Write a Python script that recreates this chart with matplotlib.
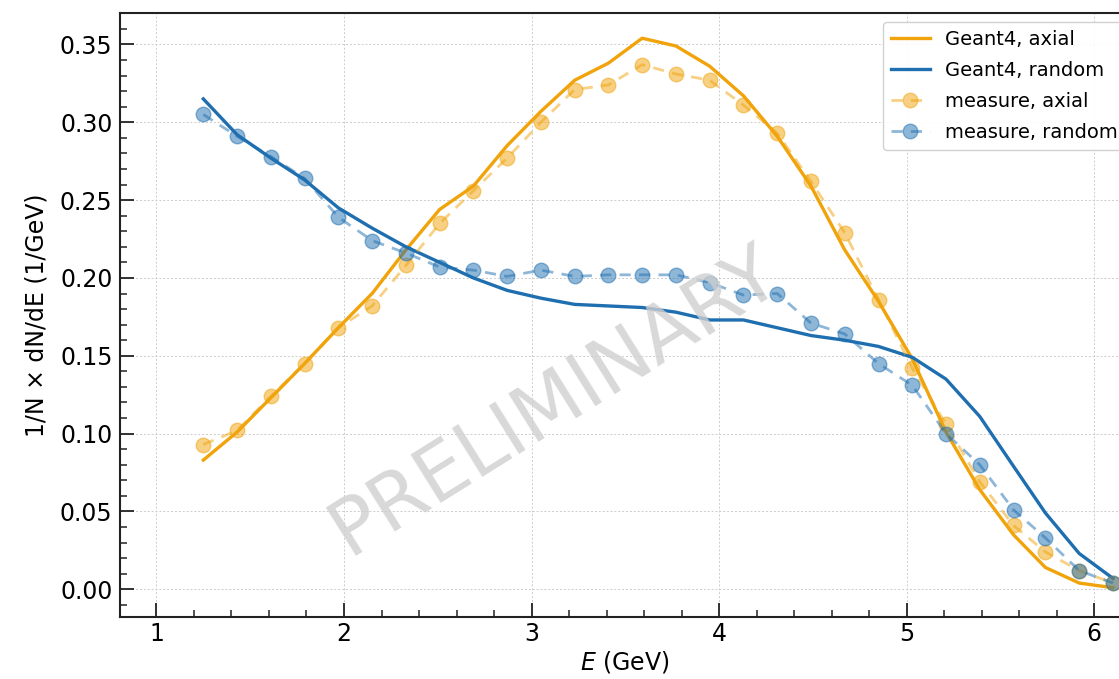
import matplotlib
matplotlib.use("Agg")
import matplotlib.pyplot as plt

# energy bin centres (GeV)
energy = [1.25, 1.43, 1.61, 1.79, 1.97, 2.15, 2.33, 2.51, 2.69, 2.87,
          3.05, 3.23, 3.41, 3.59, 3.77, 3.95, 4.13, 4.31, 4.49, 4.67,
          4.85, 5.03, 5.21, 5.39, 5.57, 5.74, 5.92, 6.10]

g4_axial = [0.083, 0.101, 0.123, 0.145, 0.168, 0.190, 0.218, 0.244, 0.259, 0.285,
            0.307, 0.327, 0.338, 0.354, 0.349, 0.336, 0.317, 0.291, 0.259, 0.218,
            0.185, 0.148, 0.101, 0.064, 0.035, 0.014, 0.004, 0.001]
g4_random = [0.315, 0.292, 0.277, 0.263, 0.245, 0.232, 0.220, 0.210, 0.200, 0.192,
             0.187, 0.183, 0.182, 0.181, 0.178, 0.173, 0.173, 0.168, 0.163, 0.160,
             0.156, 0.149, 0.135, 0.111, 0.079, 0.049, 0.023, 0.007]
meas_axial = [0.093, 0.102, 0.124, 0.145, 0.168, 0.182, 0.208, 0.235, 0.256, 0.277,
              0.300, 0.321, 0.324, 0.337, 0.331, 0.327, 0.311, 0.293, 0.262, 0.229,
              0.186, 0.142, 0.106, 0.069, 0.041, 0.024, 0.012, 0.004]
meas_random = [0.305, 0.291, 0.278, 0.264, 0.239, 0.224, 0.216, 0.207, 0.205, 0.201,
               0.205, 0.201, 0.202, 0.202, 0.202, 0.197, 0.189, 0.190, 0.171, 0.164,
               0.145, 0.131, 0.100, 0.080, 0.051, 0.033, 0.012, 0.004]

ORANGE = "#f0a30a"
BLUE = "#1f6fb0"
INK = "#222222"

fig = plt.figure(figsize=(11.19, 6.79), dpi=100)
ax = fig.add_axes([0.1068, 0.0918, 0.9032, 0.8886])

ax.plot(energy, g4_axial, color=ORANGE, lw=2.4, label="Geant4, axial")
ax.plot(energy, g4_random, color=BLUE, lw=2.4, label="Geant4, random")
ax.plot(energy, meas_axial, color=ORANGE, lw=2.0, ls=(0, (4, 3)), marker="o",
        ms=10.5, alpha=0.5, label="measure, axial")
ax.plot(energy, meas_random, color=BLUE, lw=2.0, ls=(0, (4, 3)), marker="o",
        ms=10.5, alpha=0.5, label="measure, random")

ax.set_xlim(0.803, 6.192)
ax.set_ylim(-0.0176, 0.370)
ax.set_xticks([1, 2, 3, 4, 5, 6])
ax.set_yticks([0.0, 0.05, 0.10, 0.15, 0.20, 0.25, 0.30, 0.35])
ax.set_yticklabels(["0.00", "0.05", "0.10", "0.15", "0.20", "0.25", "0.30", "0.35"])
ax.minorticks_on()
ax.xaxis.set_minor_locator(matplotlib.ticker.MultipleLocator(0.2))
ax.yaxis.set_minor_locator(matplotlib.ticker.MultipleLocator(0.01))
ax.tick_params(which="major", direction="in", length=10, width=1.3,
               labelsize=17, color=INK, pad=5)
ax.tick_params(axis="x", which="major", pad=4)
ax.tick_params(which="minor", direction="in", length=5, width=1.1, color=INK)
ax.grid(True, which="major", ls=(0, (2, 2)), lw=0.7, color="#cccccc")
for s in ax.spines.values():
    s.set_linewidth(1.5)
    s.set_color(INK)

ax.set_xlabel("$E$ (GeV)", fontsize=17, labelpad=2)
ax.set_ylabel("1/N × dN/dE (1/GeV)", fontsize=17, labelpad=8)

ax.legend(loc="upper left", bbox_to_anchor=(0.789, 0.9676),
          bbox_transform=fig.transFigure, borderaxespad=0, fontsize=14,
          framealpha=0.9, edgecolor="#cccccc", handlelength=2.0,
          labelspacing=0.62)

ax.text(0.431, 0.357, "PRELIMINARY", transform=ax.transAxes, fontsize=56,
        color="#cfcfcf", alpha=0.8, rotation=32, ha="center", va="center",
        zorder=10)

fig.savefig("out.png", dpi=100, facecolor="white")
